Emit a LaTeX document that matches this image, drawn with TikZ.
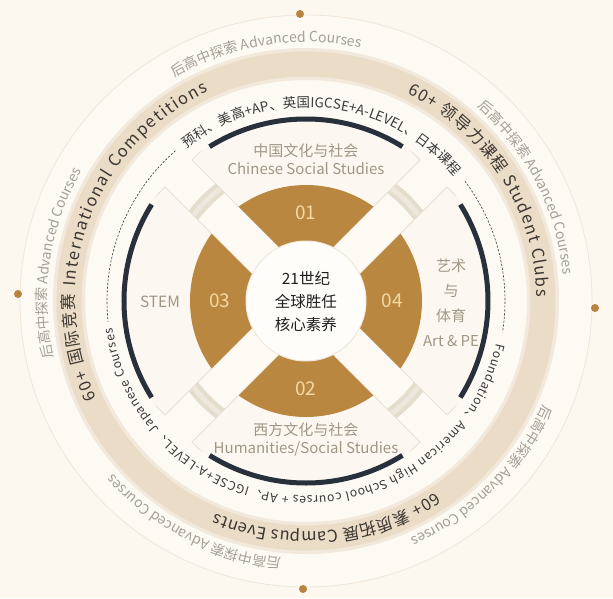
\documentclass[tikz,border=0pt]{standalone}
\usepackage{fontspec}
\setmainfont{Noto Sans CJK SC}
\usetikzlibrary{decorations.text}

\definecolor{bgcream}{HTML}{FCF7EF}
\definecolor{ringcream}{HTML}{FDFAF4}
\definecolor{faintline}{HTML}{EFE7DA}
\definecolor{dotbrown}{HTML}{B8823F}
\definecolor{bandbeige}{HTML}{EADCC7}
\definecolor{bandsoft}{HTML}{F2E9DC}
\definecolor{navy}{HTML}{28303C}
\definecolor{gold}{HTML}{BA8740}
\definecolor{goldtext}{HTML}{F4D8A2}
\definecolor{labelgray}{HTML}{A09686}
\definecolor{advgray}{HTML}{A69F96}
\definecolor{bandtext}{HTML}{3B3631}
\definecolor{dashgray}{HTML}{3A3A3A}
\definecolor{panelfill}{HTML}{FCF8F1}
\definecolor{gapwhite}{HTML}{FFFDF9}
\definecolor{panelline}{HTML}{E7E0D4}
\definecolor{stripe}{HTML}{E4DCCD}
\definecolor{stripemid}{HTML}{EEE7DB}

\newcommand\advfont{\fontsize{14}{16}\selectfont}
\newcommand\bandfont{\fontsize{16.5}{18}\selectfont}
\newcommand\dashfont{\fontsize{13.5}{16}\selectfont}
\newcommand\dashsmall{\fontsize{12.2}{15}\selectfont}

\tikzset{
  panel/.style={fill=panelfill, draw=panelline, line width=0.9pt},
  navyarc/.style={draw=navy, line width=5pt},
  dashring/.style={draw=dashgray, line width=0.6pt, dash pattern=on 2.2pt off 1.6pt},
  seclabel/.style={text=labelgray, align=center, font=\fontsize{15}{18}\selectfont},
  numlabel/.style={text=goldtext, font=\fontsize{19}{20}\selectfont},
  markdot/.style={fill=dotbrown},
  curvetext/.style={decorate, decoration={text along path, text align={fit to path=true}, #1}},
}

\begin{document}
\begin{tikzpicture}[x=1pt,y=1pt]
\useasboundingbox (-306,-297) rectangle (307,301);
\fill[bgcream] (-306,-297) rectangle (307,301);

% outer rings
\filldraw[fill=ringcream, draw=faintline, line width=0.8pt] (0,0) circle (286pt);
\fill[bandsoft, even odd rule] (0,0) circle (253pt) (0,0) circle (221pt);
\fill[bandbeige, even odd rule] (0,0) circle (249.5pt) (0,0) circle (224.5pt);
\fill[stripe, even odd rule] (0,0) circle (148pt) (0,0) circle (135pt);
\fill[stripemid, even odd rule] (0,0) circle (144pt) (0,0) circle (139pt);

% quadrant panels
\foreach \r in {0,90,180,270}{
  \begin{scope}[rotate=\r]
    \clip (0,0) circle (183pt);
    \filldraw[panel] (0,27) -- (-114,141) -- (0,255) -- (114,141) -- cycle;
  \end{scope}
}
% gold ring
\foreach \r in {0,90,180,270}{
  \begin{scope}[rotate=\r]
    \clip (0,27) -- (-200,227) -- (200,227) -- cycle;
    \fill[gold, even odd rule] (0,0) circle (116pt) (0,0) circle (60pt);
  \end{scope}
}
\filldraw[fill=gapwhite, draw=faintline, line width=1pt] (0,0) circle (60pt);

% navy arcs
\foreach \a in {90,0,-90,180}{
  \pgfmathsetmacro\angA{\a+32}\pgfmathsetmacro\angB{\a-32}
  \draw[navyarc] (\angA:182pt) arc[start angle=\angA, end angle=\angB, radius=182pt];
}
\draw[dashring] (131:199pt) arc[start angle=131, end angle=186, radius=199pt];
\draw[dashring] (37:199pt) arc[start angle=37, end angle=-9, radius=199pt];

% curved texts
\foreach \c in {99.5,27.5,-44.5,-116.5,-188.5}{
  \pgfmathsetmacro\angA{\c+21}\pgfmathsetmacro\angB{\c-21}
  \path[curvetext={text={|\advfont|后高中探索 Advanced Courses}, text color=advgray}]
    (\angA:259pt) arc[start angle=\angA, end angle=\angB, radius=259pt];
}
\path[curvetext={text={|\bandfont|60+ 领导力课程 Student Clubs}, text color=bandtext}]
  (64:231pt) arc[start angle=64, end angle=1, radius=231pt];
\path[curvetext={text={|\bandfont|60+ 国际竞赛 International Competitions}, text color=bandtext}]
  (205:231pt) arc[start angle=205, end angle=115, radius=231pt];
\path[curvetext={text={|\bandfont|60+ 素质拓展 Campus Events}, text color=bandtext}]
  (-56:231pt) arc[start angle=-56, end angle=-113, radius=231pt];
\path[curvetext={text={|\dashfont|预科、美高+AP、英国IGCSE+A-LEVEL、日本课程}, text color=dashgray}]
  (128:194pt) arc[start angle=128, end angle=40, radius=194pt];
\path[curvetext={text={|\dashsmall|Foundation、American High School courses + AP、IGCSE+A-LEVEL、Japanese Courses}, text color=dashgray}]
  (-12.5:195pt) arc[start angle=-12.5, end angle=-172, radius=195pt];

% labels
\node[numlabel] (n01) at (0,88) {01};
\node[numlabel] (n02) at (0,-88) {02};
\node[numlabel] (n03) at (-86,0) {03};
\node[numlabel] (n04) at (86,0) {04};
\node[align=center, text=black!88, font=\fontsize{15.5}{23}\selectfont] (core) at (0,-1)
  {21世纪\\全球胜任\\核心素养};
\node[seclabel] (chinese) at (0,142) {中国文化与社会\\Chinese Social Studies};
\node[seclabel] (humanities) at (0,-138) {西方文化与社会\\Humanities/Social Studies};
\node[seclabel, font=\fontsize{15.5}{18}\selectfont] (stem) at (-146,-1) {STEM};
\node[seclabel, font=\fontsize{15}{25}\selectfont] (artpe) at (145,-2) {艺术\\与\\体育\\Art \& PE};

% dots
\fill[markdot] (-6,287) circle (4pt);
\fill[markdot] (289,-7) circle (4pt);
\fill[markdot] (-288,7) circle (4pt);
\fill[markdot] (-3,-288) circle (4pt);
\end{tikzpicture}
\end{document}
